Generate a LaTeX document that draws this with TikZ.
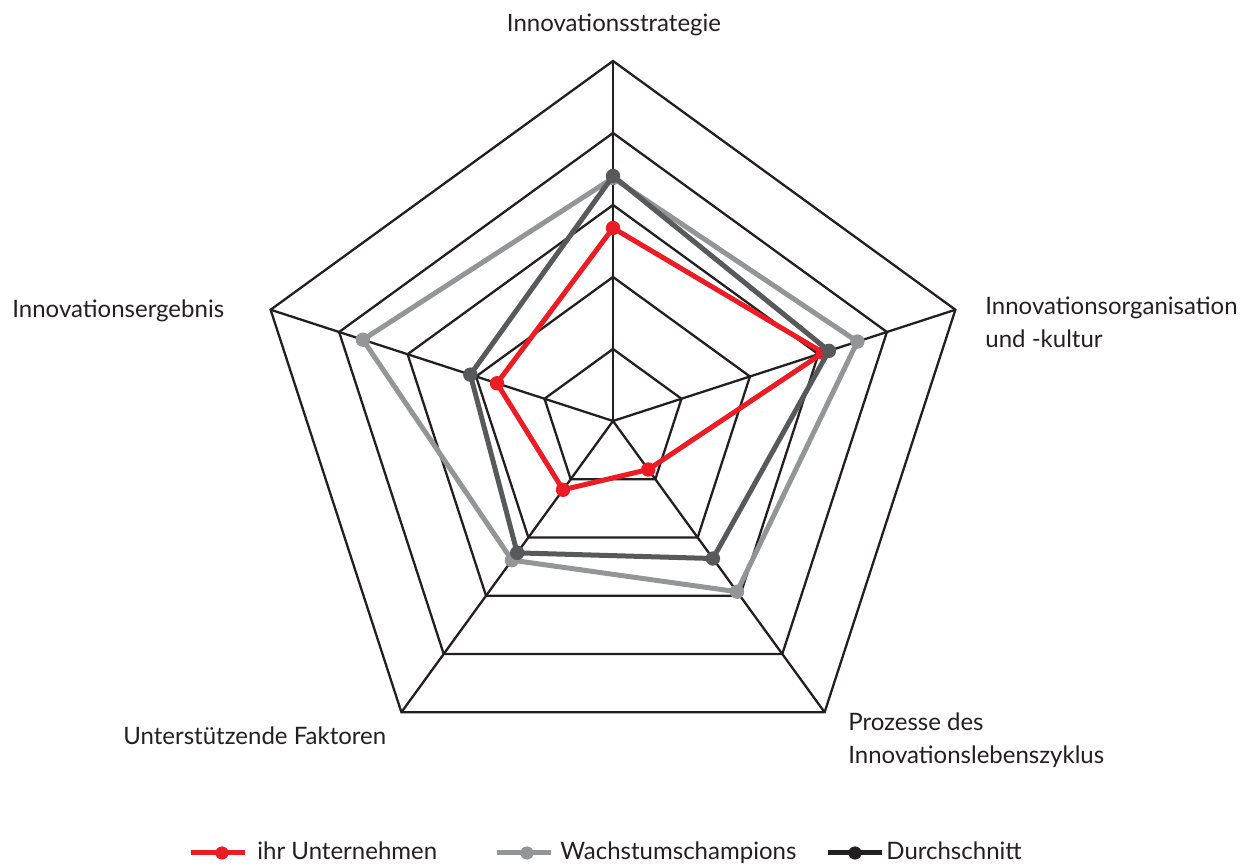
\documentclass[tikz,border=0pt]{standalone}
\usepackage{fontspec}
\setmainfont{Lato}
\definecolor{rot}{HTML}{ED1C24}
\definecolor{hellgrau}{HTML}{939598}
\definecolor{dunkelgrau}{HTML}{58595B}
\definecolor{schwarz}{HTML}{231F20}
\tikzset{
  netz/.style={draw=schwarz, line width=1.15pt, line join=miter},
  reihe/.style={line width=2.5pt, line join=round},
  achse/.style={font=\fontsize{12}{16.5}\selectfont, text=schwarz, inner sep=0pt},
}

\begin{document}
\begin{tikzpicture}[x=0.5pt, y=0.5pt]
    \useasboundingbox (0,0) rectangle (1258,867);
    \coordinate (M) at (613,446);

    \begin{scope}[shift={(M)}]
        \foreach \r in {72,144,216,288,360}
            \draw[netz] (90:\r) -- (18:\r) -- (-54:\r) -- (-126:\r) -- (162:\r) -- cycle;
        \foreach \a in {90,18,-54,-126,162}
            \draw[netz] (0,0) -- (\a:360);

        \foreach \a/\r [count=\i] in {90/243, 18/257, -54/211, -126/172, 162/263}
            \coordinate (w\i) at (\a:\r);
        \foreach \a/\r [count=\i] in {90/193, 18/221, -54/60, -126/85, 162/122}
            \coordinate (u\i) at (\a:\r);
        \foreach \a/\r [count=\i] in {90/245, 18/227, -54/170, -126/163, 162/150}
            \coordinate (d\i) at (\a:\r);
    \end{scope}

    \draw[reihe, hellgrau] (w1) -- (w2) -- (w3) -- (w4) -- (w5) -- cycle;
    \foreach \i in {1,...,5}
        \fill[hellgrau] (w\i) circle (3.6pt);

    \draw[reihe, rot] (u1) -- (u2) -- (u3) -- (u4) -- (u5) -- cycle;
    \foreach \i in {1,...,5}
        \fill[rot] (u\i) circle (3.6pt);

    \draw[reihe, dunkelgrau] (d1) -- (d2) -- (d3) -- (d4) -- (d5) -- cycle;
    \foreach \i in {1,...,5}
        \fill[dunkelgrau] (d\i) circle (3.6pt);

    \node[achse, anchor=base] (strategie) at (614,835) {Innovationsstrategie};
    \node[achse, anchor=north west, align=left] (organisation) at (985,570) {Innovationsorganisation\\und -kultur};
    \node[achse, anchor=north west, align=left] (prozesse) at (848,155) {Prozesse des\\Innovationslebenszyklus};
    \node[achse, anchor=base west] (faktoren) at (123,122) {Unterstützende Faktoren};
    \node[achse, anchor=base west] (ergebnis) at (12,549) {Innovationsergebnis};

    \node[achse, anchor=base west] (leg1) at (257,7) {ihr Unternehmen};
    \node[achse, anchor=base west] (leg2) at (560,7) {Wachstumschampions};
    \node[achse, anchor=base west] (leg3) at (886,7) {Durchschnitt};

    \draw[reihe, rot] (191,14) -- (245,14);
    \fill[rot] (222,14) circle (3.3pt);
    \draw[reihe, hellgrau] (497,14) -- (551,14);
    \fill[hellgrau] (527,14) circle (3.3pt);
    \draw[reihe, schwarz] (828,14) -- (882,14);
    \fill[schwarz] (855,14) circle (3.3pt);
\end{tikzpicture}
\end{document}
